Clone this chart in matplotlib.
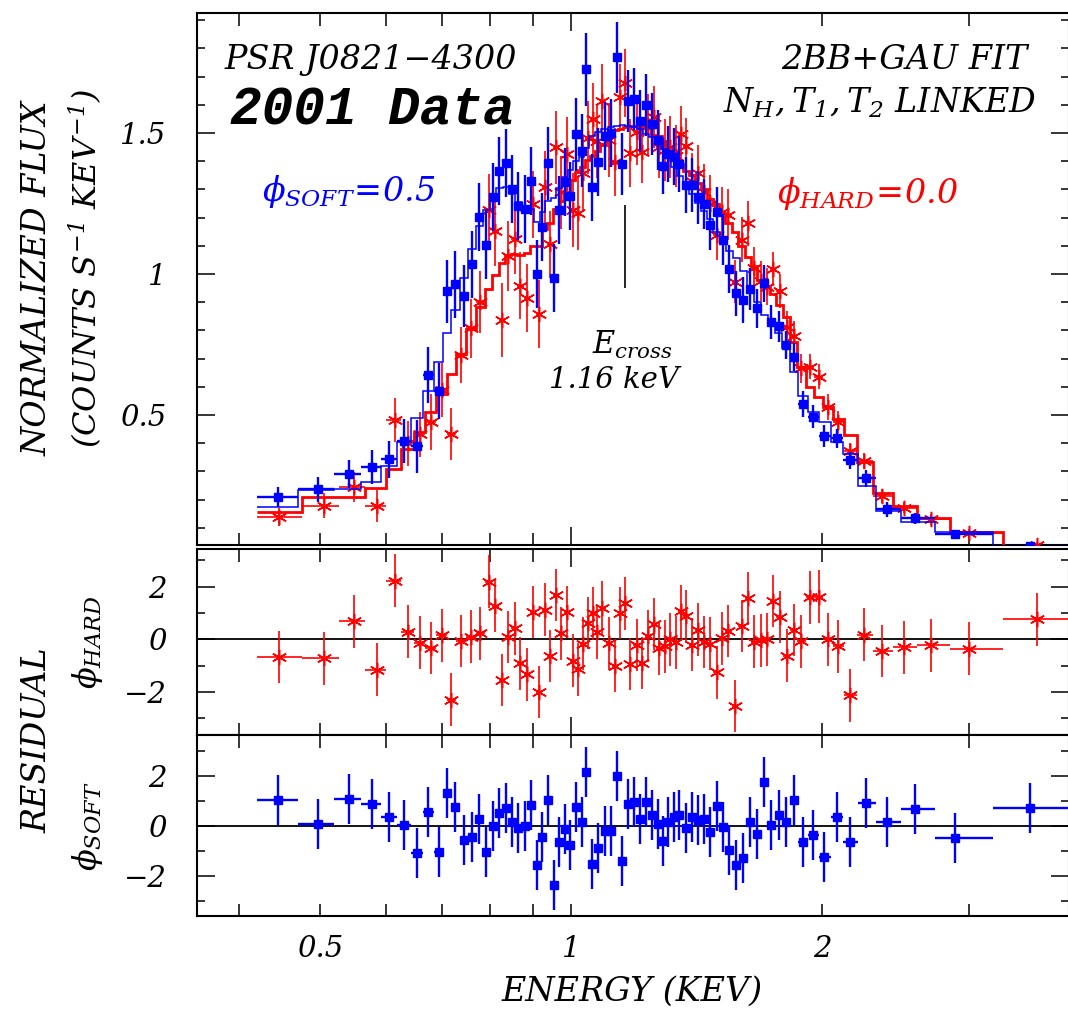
import numpy as np
import matplotlib
matplotlib.use("Agg")
import matplotlib.pyplot as plt
from matplotlib.ticker import FixedLocator, FixedFormatter, NullFormatter

plt.rcParams['font.family'] = ['DejaVu Serif']
plt.rcParams['font.style'] = 'italic'
plt.rcParams['mathtext.fontset'] = 'custom'
plt.rcParams['mathtext.rm'] = 'DejaVu Serif:italic'
plt.rcParams['mathtext.it'] = 'DejaVu Serif:italic'
plt.rcParams['mathtext.default'] = 'it'

# ---------------- soft phase (phi = 0.5) ----------------
soft_energy = [0.445, 0.498, 0.542, 0.578, 0.606, 0.631, 0.654, 0.675, 0.694, 0.711,
               0.727, 0.745, 0.761, 0.777, 0.792, 0.807, 0.820, 0.837, 0.851, 0.865,
               0.882, 0.897, 0.911, 0.924, 0.939, 0.954, 0.968, 0.984, 0.998, 1.015,
               1.030, 1.044, 1.060, 1.078, 1.098, 1.117, 1.135, 1.153, 1.171, 1.191,
               1.211, 1.232, 1.251, 1.272, 1.290, 1.308, 1.329, 1.349, 1.373, 1.398,
               1.421, 1.444, 1.469, 1.495, 1.520, 1.548, 1.578, 1.608, 1.640, 1.672,
               1.705, 1.738, 1.774, 1.811, 1.851, 1.898, 1.952, 2.013, 2.085, 2.160,
               2.257, 2.393, 2.585, 2.887, 3.554]
soft_flux = [0.208, 0.236, 0.290, 0.315, 0.343, 0.407, 0.389, 0.641, 0.585, 0.939,
             0.963, 0.922, 1.034, 1.201, 1.103, 1.272, 1.365, 1.394, 1.301, 1.242,
             1.230, 1.330, 0.999, 1.167, 1.392, 0.985, 1.227, 1.327, 1.277, 1.495,
             1.437, 1.726, 1.307, 1.396, 1.489, 1.499, 1.768, 1.389, 1.613, 1.619,
             1.544, 1.599, 1.532, 1.475, 1.384, 1.426, 1.416, 1.390, 1.316, 1.316,
             1.272, 1.248, 1.174, 1.220, 1.121, 1.018, 0.931, 0.908, 0.947, 0.878,
             0.967, 0.829, 0.814, 0.747, 0.705, 0.539, 0.494, 0.426, 0.417, 0.340,
             0.275, 0.165, 0.134, 0.077, 0.035]
soft_flux_err = [0.035, 0.043, 0.050, 0.060, 0.065, 0.078, 0.093, 0.100, 0.098, 0.112,
                 0.120, 0.110, 0.120, 0.120, 0.120, 0.120, 0.120, 0.120, 0.120, 0.120,
                 0.120, 0.120, 0.120, 0.120, 0.130, 0.120, 0.120, 0.120, 0.120, 0.130,
                 0.130, 0.130, 0.120, 0.120, 0.120, 0.120, 0.125, 0.110, 0.110, 0.110,
                 0.110, 0.110, 0.110, 0.105, 0.100, 0.100, 0.100, 0.100, 0.100, 0.095,
                 0.095, 0.090, 0.090, 0.090, 0.090, 0.085, 0.080, 0.080, 0.075, 0.070,
                 0.065, 0.060, 0.055, 0.050, 0.050, 0.045, 0.040, 0.040, 0.035, 0.030,
                 0.030, 0.025, 0.020, 0.015, 0.010]
soft_model = [0.172, 0.233, 0.237, 0.262, 0.320, 0.406, 0.490, 0.585, 0.688, 0.791,
              0.872, 0.985, 1.087, 1.169, 1.228, 1.273, 1.304, 1.309, 1.283, 1.255,
              1.231, 1.230, 1.186, 1.220, 1.258, 1.270, 1.305, 1.345, 1.370, 1.400,
              1.416, 1.446, 1.490, 1.503, 1.514, 1.520, 1.525, 1.530, 1.525, 1.520,
              1.514, 1.495, 1.485, 1.470, 1.444, 1.410, 1.381, 1.347, 1.327, 1.285,
              1.252, 1.224, 1.196, 1.149, 1.126, 1.080, 1.056, 1.011, 0.935, 0.900,
              0.853, 0.829, 0.790, 0.739, 0.654, 0.568, 0.509, 0.476, 0.405, 0.360,
              0.248, 0.161, 0.121, 0.084, 0.028]
soft_resid = [1.03, 0.07, 1.07, 0.88, 0.35, 0.01, -1.09, 0.56, -1.05, 1.32,
              0.76, -0.57, -0.44, 0.27, -1.04, -0.01, 0.51, 0.71, 0.15, -0.11,
              -0.01, 0.83, -1.56, -0.44, 1.03, -2.37, -0.65, -0.15, -0.77, 0.75,
              0.16, 2.15, -1.53, -0.89, -0.21, -0.21, 1.99, -1.41, 0.87, 0.95,
              0.27, 0.95, 0.43, 0.05, -0.60, 0.15, 0.35, 0.43, -0.11, 0.33,
              0.21, 0.27, -0.25, 0.79, -0.05, -0.97, -1.56, -1.29, 0.16, -0.33,
              1.75, 0.01, 0.43, 0.16, 1.03, -0.65, -0.37, -1.25, 0.35, -0.65,
              0.91, 0.16, 0.67, -0.49, 0.71]

# ---------------- hard phase (phi = 0.0) ----------------
hard_energy = [0.447, 0.506, 0.550, 0.585, 0.615, 0.638, 0.659, 0.679, 0.700, 0.719,
               0.739, 0.759, 0.779, 0.797, 0.812, 0.827, 0.841, 0.856, 0.870, 0.885,
               0.900, 0.915, 0.930, 0.944, 0.959, 0.974, 0.990, 1.005, 1.020, 1.033,
               1.047, 1.062, 1.076, 1.091, 1.110, 1.129, 1.146, 1.161, 1.178, 1.199,
               1.216, 1.238, 1.257, 1.276, 1.295, 1.315, 1.335, 1.354, 1.375, 1.397,
               1.421, 1.443, 1.469, 1.495, 1.519, 1.544, 1.573, 1.602, 1.630, 1.657,
               1.689, 1.717, 1.747, 1.780, 1.815, 1.849, 1.888, 1.935, 1.982, 2.032,
               2.090, 2.162, 2.244, 2.358, 2.506, 2.704, 3.000, 3.618]
hard_flux = [0.139, 0.178, 0.246, 0.177, 0.482, 0.400, 0.431, 0.476, 0.589, 0.433,
             0.713, 0.807, 0.902, 1.227, 1.152, 0.837, 1.064, 1.124, 0.959, 0.914,
             1.247, 0.858, 1.307, 1.105, 1.449, 1.290, 1.426, 1.227, 1.215, 1.357,
             1.484, 1.549, 1.470, 1.614, 1.475, 1.398, 1.626, 1.677, 1.430, 1.505,
             1.434, 1.530, 1.558, 1.450, 1.440, 1.450, 1.420, 1.496, 1.454, 1.330,
             1.357, 1.290, 1.250, 1.140, 1.220, 1.210, 0.973, 1.121, 1.180, 1.020,
             0.976, 0.955, 1.017, 0.941, 0.813, 0.780, 0.665, 0.671, 0.636, 0.529,
             0.475, 0.372, 0.337, 0.214, 0.171, 0.130, 0.080, 0.039]
hard_flux_err = [0.031, 0.044, 0.053, 0.057, 0.078, 0.080, 0.080, 0.100, 0.095, 0.092,
                 0.100, 0.105, 0.110, 0.128, 0.124, 0.130, 0.125, 0.125, 0.120, 0.120,
                 0.120, 0.120, 0.130, 0.120, 0.130, 0.130, 0.130, 0.130, 0.130, 0.130,
                 0.130, 0.130, 0.130, 0.130, 0.130, 0.120, 0.120, 0.120, 0.120, 0.120,
                 0.110, 0.110, 0.110, 0.110, 0.110, 0.110, 0.110, 0.100, 0.100, 0.100,
                 0.100, 0.100, 0.100, 0.090, 0.090, 0.090, 0.075, 0.080, 0.080, 0.075,
                 0.070, 0.065, 0.060, 0.060, 0.055, 0.055, 0.050, 0.045, 0.045, 0.045,
                 0.040, 0.028, 0.030, 0.025, 0.020, 0.020, 0.015, 0.010]
hard_model = [0.157, 0.210, 0.210, 0.242, 0.307, 0.378, 0.441, 0.509, 0.574, 0.644,
              0.716, 0.804, 0.882, 0.946, 0.996, 1.038, 1.068, 1.070, 1.069, 1.074,
              1.100, 1.099, 1.161, 1.180, 1.229, 1.260, 1.290, 1.332, 1.363, 1.379,
              1.403, 1.420, 1.436, 1.458, 1.500, 1.510, 1.515, 1.520, 1.525, 1.525,
              1.520, 1.516, 1.494, 1.488, 1.470, 1.450, 1.433, 1.390, 1.367, 1.351,
              1.321, 1.300, 1.267, 1.250, 1.217, 1.180, 1.150, 1.100, 1.060, 1.027,
              0.980, 0.955, 0.930, 0.890, 0.847, 0.760, 0.670, 0.600, 0.563, 0.529,
              0.486, 0.430, 0.332, 0.225, 0.177, 0.135, 0.085, 0.031]
hard_resid = [-0.67, -0.73, 0.68, -1.15, 2.23, 0.29, -0.13, -0.33, 0.15, -2.29,
              -0.06, 0.10, 0.22, 2.19, 1.26, -1.55, 0.09, 0.41, -0.92, -1.33,
              1.04, -2.01, 1.12, -0.63, 1.69, 0.23, 1.04, -0.81, -1.14, -0.17,
              0.62, 0.99, 0.26, 1.20, -0.15, -1.01, 1.00, 1.37, -0.94, -0.22,
              -0.90, 0.13, 0.58, -0.35, -0.27, 0.00, -0.12, 1.06, 0.87, -0.21,
              0.36, -0.10, -0.17, -1.26, 0.03, 0.32, -2.54, 0.51, 1.56, -0.09,
              -0.04, 0.00, 1.45, 0.85, -0.62, 0.35, -0.08, 1.59, 1.62, 0.00,
              -0.27, -2.13, 0.17, -0.44, -0.31, -0.23, -0.36, 0.76]

e_cross = 1.16
e_cross_span = (0.95, 1.245)

x_major = [1.0]
x_minor = [0.4, 0.5, 0.6, 0.7, 0.8, 0.9, 2.0, 3.0]
x_ticklabels = ['0.5', '1', '2']
x_labelled = [0.5, 1.0, 2.0]


def bin_edges(energy):
    le = np.log10(np.asarray(energy))
    mid = 0.5 * (le[1:] + le[:-1])
    first = le[0] - (mid[0] - le[0])
    last = le[-1] + (le[-1] - mid[-1])
    return 10 ** np.concatenate([[first], mid, [last]])


W, H = 1068, 1010
fig = plt.figure(figsize=(W / 100, H / 100), dpi=100)


def fx(px):
    return px / W


def fy(py):
    return 1 - py / H


LEFT, RIGHT = 197, 1069
XLIM = (0.3563, 3.955)


def panel(top, bottom):
    return fig.add_axes([fx(LEFT), fy(bottom), (RIGHT - LEFT) / W, (bottom - top) / H])


ax1 = panel(13.3, 544.7)
ax2 = panel(549.3, 734.5)
ax3 = panel(734.7, 915.7)

for ax in (ax1, ax2, ax3):
    ax.set_xscale('log')
    ax.set_xlim(*XLIM)
    ax.xaxis.set_major_locator(FixedLocator(x_major))
    ax.xaxis.set_minor_locator(FixedLocator(x_minor))
    ax.xaxis.set_major_formatter(NullFormatter())
    ax.xaxis.set_minor_formatter(NullFormatter())
    ax.tick_params(which='both', direction='in', top=True, right=True, width=1.1,
                   labelsize=21, color='black')
    ax.tick_params(axis='x', which='major', length=13)
    ax.tick_params(axis='x', which='minor', length=9)
    ax.tick_params(axis='y', which='major', length=13, pad=22)
    ax.tick_params(axis='y', which='minor', length=6)
    for sp in ax.spines.values():
        sp.set_linewidth(1.5)

# ---------------- spectrum panel ----------------
s_edges = bin_edges(soft_energy)
h_edges = bin_edges(hard_energy)
se = np.asarray(soft_energy)
he = np.asarray(hard_energy)
s_xerr = [se - s_edges[:-1], s_edges[1:] - se]
h_xerr = [he - h_edges[:-1], h_edges[1:] - he]

star = (6, 2, 0)

ax1.errorbar(hard_energy, hard_flux, yerr=hard_flux_err, xerr=h_xerr, fmt='none',
             ecolor='red', elinewidth=1.2, capsize=0, zorder=2)
ax1.plot(hard_energy, hard_flux, linestyle='none', marker=star, ms=11, mew=1.1,
         color='red', zorder=3)
ax1.stairs(hard_model, h_edges, baseline=None, color='red', linewidth=2.0, zorder=4)
ax1.errorbar(soft_energy, soft_flux, yerr=soft_flux_err, xerr=s_xerr, fmt='s',
             color='blue', ms=5.5, elinewidth=1.7, capsize=0, zorder=5)
ax1.stairs(soft_model, s_edges, baseline=None, color='blue', linewidth=1.1, zorder=6)
ax1.vlines(e_cross, *e_cross_span, color='black', linewidth=1.2, zorder=7)

ax1.set_ylim((556 - 544.7) / 282, (556 - 13.3) / 282)
ax1.yaxis.set_major_locator(FixedLocator([0.5, 1.0, 1.5]))
ax1.yaxis.set_major_formatter(FixedFormatter(['0.5', '1', '1.5']))
ax1.yaxis.set_minor_locator(FixedLocator(np.round(np.arange(0.1, 1.95, 0.1), 2)))

# ---------------- residual panels ----------------
for ax, e, r, xe, col, mk, lw in (
        (ax2, hard_energy, hard_resid, h_xerr, 'red', star, 1.2),
        (ax3, soft_energy, soft_resid, s_xerr, 'blue', 's', 1.7)):
    ax.axhline(0, color='black', linewidth=1.3, zorder=1)
    if mk == 's':
        ax.errorbar(e, r, yerr=1.0, xerr=xe, fmt='s', color=col, ms=5.5,
                    elinewidth=lw, capsize=0, zorder=3)
    else:
        ax.errorbar(e, r, yerr=1.0, xerr=xe, fmt='none', ecolor=col,
                    elinewidth=lw, capsize=0, zorder=2)
        ax.plot(e, r, linestyle='none', marker=mk, ms=11, mew=1.1, color=col, zorder=3)
    ax.yaxis.set_major_locator(FixedLocator([-2, 0, 2]))
    ax.yaxis.set_major_formatter(FixedFormatter(['\u22122', '0', '2']))
    ax.yaxis.set_minor_locator(FixedLocator([-3, -1, 1, 3]))

ax2.set_ylim(-3.62, 3.42)
ax3.set_ylim(-3.6, 3.64)

ax3.xaxis.set_major_locator(FixedLocator(x_labelled))
ax3.xaxis.set_minor_locator(FixedLocator([0.4, 0.6, 0.7, 0.8, 0.9, 3.0]))
ax3.xaxis.set_major_formatter(FixedFormatter(x_ticklabels))
ax3.tick_params(axis='x', which='major', length=9, pad=14)

# ---------------- annotations ----------------
tkw = dict(fontsize=24, style='italic')
fig.text(fx(225), fy(60), 'PSR J0821\u22124300', ha='left', va='center', **tkw)
fig.text(fx(230), fy(110), '2001 Data', ha='left', va='center', fontsize=38,
         family='Liberation Mono', weight='bold', style='italic')
fig.text(fx(1027), fy(60), '2BB+GAU FIT', ha='right', va='center', **tkw)
fig.text(fx(1037), fy(103), r'$N_H,T_1,T_2$ LINKED', ha='right', va='center', **tkw)
fig.text(fx(262), fy(192), r'$\phi_{SOFT}\!=\!0.5$', ha='left', va='center',
         color='blue', fontsize=24)
fig.text(fx(777), fy(194), r'$\phi_{HARD}\!=\!0.0$', ha='left', va='center',
         color='red', fontsize=24)
fig.text(fx(632), fy(345), r'$E_{cross}$', ha='center', va='center', fontsize=22)
fig.text(fx(614), fy(380), '1.16 keV', ha='center', va='center', fontsize=21)

fig.text(fx(38), fy(278), 'NORMALIZED FLUX', rotation=90, ha='center', va='center', **tkw)
fig.text(fx(86), fy(268), r'(COUNTS $S^{-1}$ $KEV^{-1}$)', rotation=90,
         ha='center', va='center', fontsize=23)
fig.text(fx(38), fy(740), 'RESIDUAL', rotation=90, ha='center', va='center', **tkw)
fig.text(fx(88), fy(642), r'$\phi_{HARD}$', rotation=90, ha='center', va='center',
         fontsize=23)
fig.text(fx(88), fy(826), r'$\phi_{SOFT}$', rotation=90, ha='center', va='center',
         fontsize=23)
fig.text(fx(632), fy(992), 'ENERGY (KEV)', ha='center', va='center', **tkw)

fig.savefig('out.png', dpi=100)
